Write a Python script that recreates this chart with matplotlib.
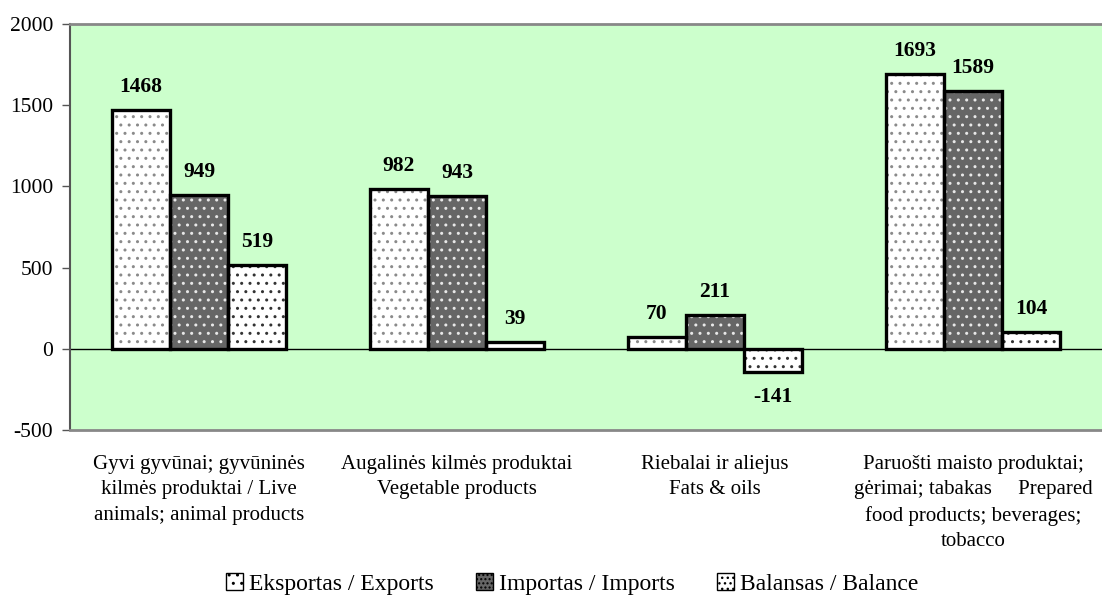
import matplotlib
matplotlib.use("Agg")
import matplotlib.pyplot as plt
import numpy as np
from matplotlib.patches import Patch

plt.rcParams['font.family'] = ['Liberation Serif', 'DejaVu Serif']
plt.rcParams['hatch.linewidth'] = 1.0

categories = [
    "Gyvi gyvūnai; gyvūninės\nkilmės produktai / Live\nanimals; animal products",
    "Augalinės kilmės produktai\nVegetable products",
    "Riebalai ir aliejus\nFats & oils",
    "Paruošti maisto produktai;\ngėrimai; tabakas     Prepared\nfood products; beverages;\ntobacco",
]
exports = [1468, 982, 70, 1693]
imports = [949, 943, 211, 1589]
balance = [519, 39, -141, 104]
series_names = ["Eksportas / Exports", "Importas / Imports", "Balansas / Balance"]
yticks = [-500, 0, 500, 1000, 1500, 2000]

fig = plt.figure(figsize=(11.02, 6.02), dpi=100)
ax = fig.add_axes([70/1102, 1 - 430/602, 1 - 70/1102, (430 - 24)/602])
ax.set_facecolor('#CCFFCC')

x = np.arange(len(categories))
w = 0.225

# Exports
ax.bar(x - w, exports, w, facecolor='white', edgecolor='#8a8a8a', hatch='..', linewidth=0, zorder=2)
ax.bar(x - w, exports, w, facecolor='none', edgecolor='black', linewidth=2.4, zorder=3)
# Imports
ax.bar(x, imports, w, facecolor='#666666', edgecolor='#E8E8E8', hatch='..', linewidth=0, zorder=2)
ax.bar(x, imports, w, facecolor='none', edgecolor='black', linewidth=2.4, zorder=3)
# Balance
ax.bar(x + w, balance, w, facecolor='white', edgecolor='#333333', hatch='..', linewidth=0, zorder=2)
ax.bar(x + w, balance, w, facecolor='none', edgecolor='black', linewidth=2.4, zorder=3)

ax.axhline(0, color='black', linewidth=1, zorder=1)

for offs, vals in [(-w, exports), (0, imports), (w, balance)]:
    for xi, v in zip(x, vals):
        if v >= 0:
            ax.text(xi + offs, v + 80, str(v), ha='center', va='bottom',
                    fontsize=15.5, fontweight='bold')
        else:
            ax.text(xi + offs, v - 95, str(v), ha='center', va='top',
                    fontsize=15.5, fontweight='bold')

ax.set_xlim(-0.5, 3.5)
ax.set_ylim(-500, 2000)
ax.set_yticks(yticks)
ax.set_yticklabels([str(t) for t in yticks], fontsize=15.5)
ax.set_xticks(x)
ax.set_xticklabels(categories, fontsize=15, linespacing=1.45, va='top')
ax.tick_params(axis='x', length=0, pad=18)
ax.tick_params(axis='y', length=6, width=1, color='#555555', direction='out', pad=6)

for s in ['top', 'bottom']:
    ax.spines[s].set_color('#888888')
    ax.spines[s].set_linewidth(2)
ax.spines['left'].set_color('#555555')
ax.spines['left'].set_linewidth(1.5)
ax.spines['right'].set_visible(False)

handles = [
    Patch(facecolor='white', edgecolor='black', hatch='..', linewidth=1),
    Patch(facecolor='#666666', edgecolor='black', hatch='....', linewidth=1),
    Patch(facecolor='white', edgecolor='black', hatch='...', linewidth=1),
]
fig.legend(handles, series_names, loc='center', bbox_to_anchor=(572/1102, 1 - 584/602),
           ncol=3, frameon=False, fontsize=17, handlelength=0.72, handleheight=0.72,
           handletextpad=0.25, columnspacing=1.8, borderpad=0.2)

fig.savefig('out.png', dpi=100, facecolor='white')
